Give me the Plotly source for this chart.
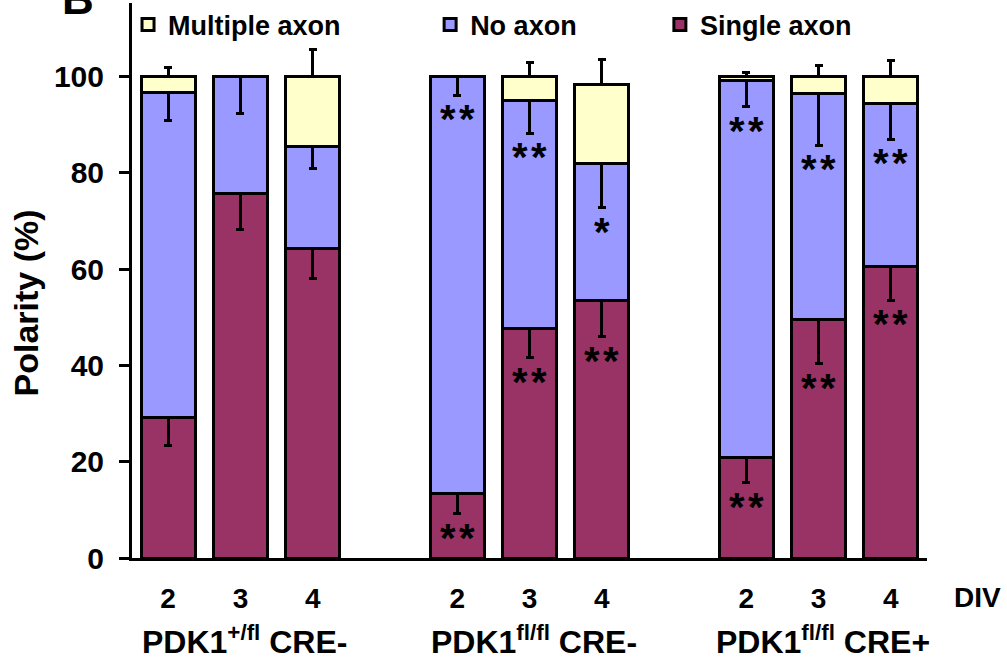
import plotly.graph_objects as go

# ---------------- data ----------------
groups = ["PDK1<sup>+/fl</sup> CRE-", "PDK1<sup>fl/fl</sup> CRE-", "PDK1<sup>fl/fl</sup> CRE+"]
div_days = ["2", "3", "4"]

single_axon = [29.1, 75.7, 64.3, 13.4, 47.6, 53.5, 20.8, 49.5, 60.5]
single_err = [5.8, 7.5, 6.2, 4.2, 6.0, 7.5, 5.2, 9.1, 7.0]
no_axon = [67.6, 24.3, 21.2, 86.6, 47.4, 28.4, 78.3, 47.1, 33.9]
no_err = [5.9, 7.6, 4.6, 3.9, 6.8, 9.1, 5.4, 10.8, 7.4]
multiple_axon = [3.3, 0, 14.5, 0, 5.0, 16.4, 0.9, 3.4, 5.6]
multiple_err = [1.9, None, 5.6, None, 3.0, 5.3, 0.8, 2.4, 3.4]

sig_single = ["", "", "", "**", "**", "**", "**", "**", "**"]
sig_no = ["", "", "", "**", "**", "*", "**", "**", "**"]

# ---------------- layout helpers ----------------
FONT = "Liberation Sans, Arial, sans-serif"
x_pos = [g * 4 + d for g in range(len(groups)) for d in range(len(div_days))]
tick_text = [d for _ in groups for d in div_days]
zeros = [0] * len(x_pos)
line = dict(color="black", width=3)

fig = go.Figure()
fig.add_bar(x=x_pos, y=single_axon, name="Single axon", width=0.75,
            marker=dict(color="#993366", line=line),
            error_y=dict(type="data", symmetric=False, array=zeros, arrayminus=single_err,
                         color="black", thickness=3, width=4),
            legend="legend3")
fig.add_bar(x=x_pos, y=no_axon, name="No axon", width=0.75,
            marker=dict(color="#9999FF", line=line),
            error_y=dict(type="data", symmetric=False, array=zeros, arrayminus=no_err,
                         color="black", thickness=3, width=4),
            legend="legend2")
fig.add_bar(x=x_pos, y=multiple_axon, name="Multiple axon", width=0.75,
            marker=dict(color="#FFFFCC", line=line),
            error_y=dict(type="data", symmetric=False, array=multiple_err,
                         arrayminus=zeros, color="black", thickness=3, width=4),
            legend="legend")


def stars(s):
    return "<b>" + "\u200a".join(s) + "</b>"


# significance stars, placed below the error-bar ends
for i, x in enumerate(x_pos):
    if sig_single[i]:
        fig.add_annotation(x=x, y=single_axon[i] - single_err[i], text=stars(sig_single[i]),
                           showarrow=False, yanchor="top",
                           font=dict(family=FONT, size=40, color="black"))
    if sig_no[i]:
        top = single_axon[i] + no_axon[i]
        fig.add_annotation(x=x, y=top - no_err[i], text=stars(sig_no[i]),
                           showarrow=False, yanchor="top",
                           font=dict(family=FONT, size=40, color="black"))

# group labels
for g, name in enumerate(groups):
    fig.add_annotation(x=g * 4 + 1, y=-106 / 558, yref="paper", text=f"<b>{name}</b>",
                       showarrow=False, xshift=4, yanchor="bottom", yshift=1,
                       font=dict(family=FONT, size=32, color="black"))

fig.add_annotation(x=(977 - 132) / 795, y=-0.0717, xref="paper", yref="paper", text="<b>DIV</b>",
                   showarrow=False, xanchor="center", yanchor="middle",
                   font=dict(family=FONT, size=28, color="black"))
fig.add_annotation(x=-0.16, y=0.46, xref="paper", yref="paper", text="<b>Polarity (%)</b>",
                   showarrow=False, textangle=-90,
                   font=dict(family=FONT, size=34, color="black"))
fig.add_annotation(x=(78 - 132) / 795, y=(558 - 12) / 558, xref="paper", yref="paper", text="<b>B</b>",
                   showarrow=False, xanchor="center", yanchor="bottom", yshift=-10,
                   font=dict(family=FONT, size=44, color="black"))

legend_common = dict(orientation="h", yanchor="middle", y=1 - 22 / 558, xanchor="left",
                     font=dict(family=FONT, size=27, color="black", weight="bold"),
                     bgcolor="rgba(0,0,0,0)", borderwidth=0)

fig.update_layout(
    width=1007, height=664,
    margin=dict(l=132, r=80, t=0, b=106),
    paper_bgcolor="white", plot_bgcolor="white",
    barmode="stack", bargap=0.25,
    font=dict(family=FONT, color="black"),
    showlegend=True,
    legend=dict(x=-0.005, **legend_common),
    legend2=dict(x=0.375, **legend_common),
    legend3=dict(x=0.664, **legend_common),
    xaxis=dict(range=[-0.5, 10.5], tickvals=x_pos, ticktext=[f"<b>{t}</b>" for t in tick_text],
               showline=True, linecolor="black", linewidth=3, ticks="",
               tickfont=dict(family=FONT, size=28, color="black"),
               ticklabelstandoff=13, showgrid=False, zeroline=False),
    yaxis=dict(range=[0, 115.3], tickvals=[0, 20, 40, 60, 80, 100],
               ticktext=["<b>0</b>", "<b>20</b>", "<b>40</b>", "<b>60</b>", "<b>80</b>", "<b>100</b>"],
               showline=True, linecolor="black", linewidth=3,
               ticks="outside", ticklen=10, tickwidth=3, tickcolor="black",
               tickfont=dict(family=FONT, size=30, color="black"),
               ticklabelstandoff=9, showgrid=False, zeroline=False),
)

fig.write_html("out.html")
